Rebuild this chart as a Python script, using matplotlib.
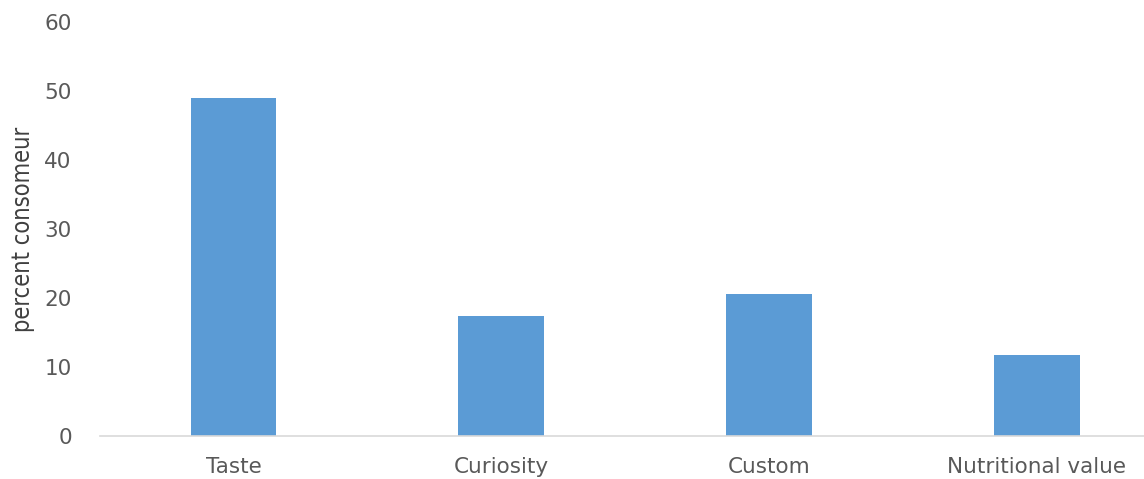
import matplotlib
matplotlib.use("Agg")
import matplotlib.pyplot as plt

# data
categories = ["Taste", "Curiosity", "Custom", "Nutritional value"]
values = [49.0, 17.4, 20.6, 11.8]
yticks = [0, 10, 20, 30, 40, 50, 60]

bar_color = "#5B9BD5"
text_color = "#595959"
fonts = ["DejaVu Sans"]

fig = plt.figure(figsize=(11.44, 4.79), dpi=100)
ax = fig.add_axes([0.087, 0.0898, 0.913, 0.864])

x = list(range(len(categories)))
ax.bar(x, values, width=0.32, color=bar_color)

ax.set_xlim(-0.5, 3.40)
ax.set_ylim(0, 60)
ax.set_yticks(yticks)
ax.set_yticklabels([str(t) for t in yticks], fontsize=15.5, color=text_color,
                   family=fonts)
ax.set_xticks(x)
ax.set_xticklabels(categories, fontsize=15.5, color=text_color, family=fonts)
ax.tick_params(axis="y", length=0, pad=20)
ax.tick_params(axis="x", length=0, pad=15)

for s in ["top", "right", "left"]:
    ax.spines[s].set_visible(False)
ax.spines["bottom"].set_color("#D9D9D9")
ax.spines["bottom"].set_linewidth(1.2)

# narrow font for the axis title, like the original
ax.set_ylabel("percent consomeur", fontsize=17, color="#404040",
              family=["Liberation Sans Narrow", "DejaVu Sans"],
              fontstretch="condensed")
ax.yaxis.set_label_coords(-0.062, 0.5)

fig.savefig("out.png", dpi=100)
